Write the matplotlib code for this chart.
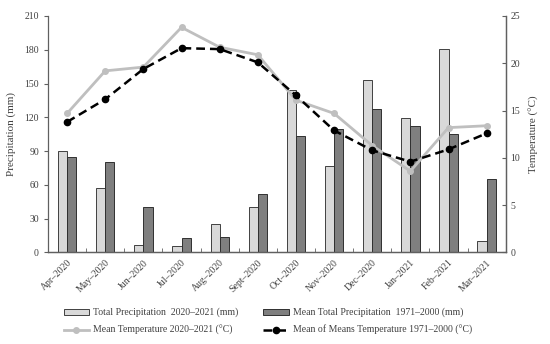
import matplotlib
matplotlib.use("Agg")
import matplotlib.pyplot as plt
import numpy as np
from matplotlib.lines import Line2D
from matplotlib.patches import Patch

months = ["Apr–2020", "May–2020", "Jun–2020", "Jul–2020", "Aug–2020", "Sept–2020",
          "Oct–2020", "Nov–2020", "Dec–2020", "Jan–2021", "Feb–2021", "Mar–2021"]
precip_2020 = [90, 57, 7, 6, 25, 40, 144, 77, 153, 119, 181, 10]
precip_mean = [85, 80, 40, 13, 14, 52, 103, 110, 127, 112, 105, 65]
temp_2020 = [14.7, 19.2, 19.6, 23.8, 21.7, 20.9, 16.1, 14.7, 11.3, 8.6, 13.2, 13.4]
temp_mean = [13.8, 16.2, 19.4, 21.6, 21.5, 20.1, 16.6, 12.9, 10.8, 9.6, 10.9, 12.6]

plt.rcParams['font.family'] = ['Liberation Serif', 'DejaVu Serif']
tick_color = '#404040'

fig = plt.figure(figsize=(5.5, 3.44), dpi=100)
ax = fig.add_axes([0.0873, 0.266, 0.8322, 0.6875])
ax2 = ax.twinx()

x = np.arange(len(months))
w = 0.24
ax.bar(x - w/2, precip_2020, width=w, color='#d9d9d9', edgecolor='#404040', linewidth=0.7, zorder=2)
ax.bar(x + w/2, precip_mean, width=w, color='#7f7f7f', edgecolor='#303030', linewidth=0.7, zorder=2)

ax2.plot(x, temp_2020, color='#bfbfbf', linewidth=2.0, marker='o', markersize=4, zorder=3)
ax2.plot(x, temp_mean, color='black', linewidth=1.8, linestyle=(0, (3.5, 2)), marker='o', markersize=4.5, zorder=4)

ax.set_xlim(-0.5, len(months) - 0.5)
ax.set_ylim(0, 210)
ax.set_yticks(np.arange(0, 211, 30))
ax2.set_ylim(0, 25)
ax2.set_yticks(np.arange(0, 26, 5))

ax.set_xticks(x)
ax.set_xticklabels(months, rotation=45, ha='right', rotation_mode='anchor', fontsize=7, color=tick_color)
ax.set_xticks(np.arange(-0.5, len(months), 1), minor=True)
ax.tick_params(axis='x', which='major', length=0, pad=4)
ax.tick_params(axis='x', which='minor', length=3, direction='in', color='#606060')
ax.tick_params(axis='y', labelsize=7, labelcolor=tick_color, length=3, color='#606060')
ax2.tick_params(axis='y', labelsize=7, labelcolor=tick_color, length=3, direction='in', color='#606060')

for a in (ax, ax2):
    a.spines['top'].set_visible(False)
    for s in ('left', 'right', 'bottom'):
        a.spines[s].set_color('#606060')
        a.spines[s].set_linewidth(0.9)
ax2.spines['left'].set_visible(False)

ax.set_ylabel('Precipitation (mm)', fontsize=8, color=tick_color, labelpad=6)
ax2.set_ylabel('Temperature (°C)', fontsize=8, color=tick_color, labelpad=6)

h_p1 = Patch(facecolor='#d9d9d9', edgecolor='#404040', linewidth=0.7)
h_p2 = Patch(facecolor='#7f7f7f', edgecolor='#303030', linewidth=0.7)
h_t1 = Line2D([], [], color='#bfbfbf', linewidth=2.0, marker='o', markersize=4)
h_t2 = Line2D([], [], color='black', linewidth=1.8, linestyle=(0, (3.5, 2)), marker='o', markersize=4.5)
handles = [h_p1, h_t1, h_p2, h_t2]
labels = ['Total Precipitation  2020–2021 (mm)', 'Mean Temperature 2020–2021 (°C)',
          'Mean Total Precipitation  1971–2000 (mm)', 'Mean of Means Temperature 1971–2000 (°C)']
fig.legend(handles, labels, loc='lower left', bbox_to_anchor=(0.1, 0.0), ncol=2,
           frameon=False, fontsize=7, handlelength=2.6, handleheight=0.6,
           columnspacing=2.6, labelspacing=0.8, handletextpad=0.4,
           labelcolor=tick_color)

fig.savefig('out.png', dpi=100)
